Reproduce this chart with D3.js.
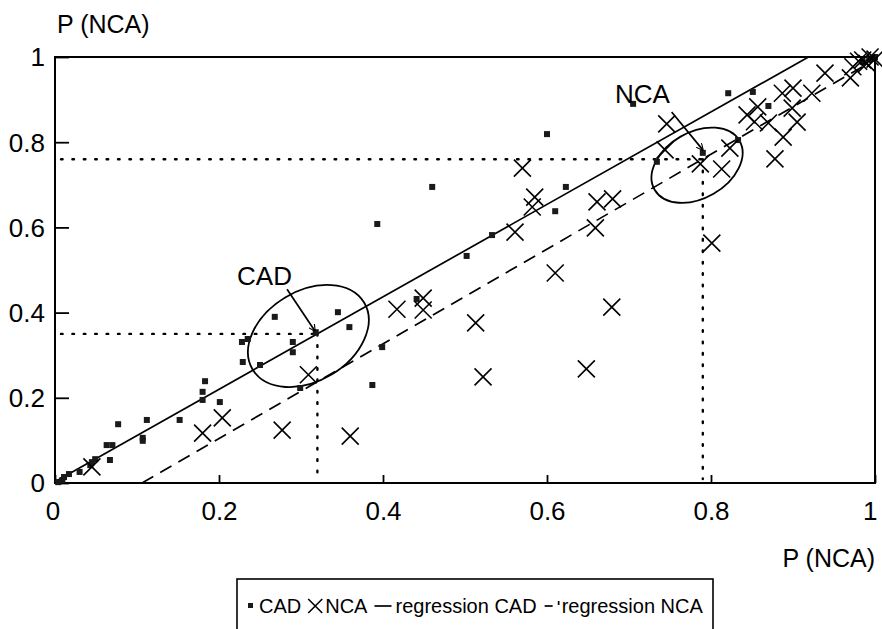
<!DOCTYPE html>
<html>
<head>
<meta charset="utf-8">
<script src="https://cdn.jsdelivr.net/npm/d3@7"></script>
<style>
body { margin: 0; background: #fff; }
svg { display: block; font-family: "Liberation Sans", Arial, sans-serif; background: #fff; }
.frame { fill: none; stroke: #000; stroke-width: 2; }
.axis path { display: none; }
.axis line { stroke: #000; stroke-width: 1.8; }
.axis text { font-size: 26px; fill: #000; font-family: "Liberation Sans", Arial, sans-serif; }
.title { font-size: 25px; fill: #000; }
.ref-line { stroke: #000; stroke-width: 2.4; stroke-dasharray: 1.6,9.8; stroke-linecap: round; fill: none; }
.reg-cad { stroke: #000; stroke-width: 1.7; fill: none; }
.reg-nca { stroke: #000; stroke-width: 1.7; fill: none; stroke-dasharray: 13,8; }
.ellipse { stroke: #000; stroke-width: 1.8; fill: none; }
.pointer { stroke: #000; stroke-width: 1.7; fill: none; }
.cad-point { fill: #1a1a1a; }
.nca-point { stroke: #000; stroke-width: 1.6; }
.note { font-size: 26px; fill: #000; }
.legend-box { fill: #fff; stroke: #000; stroke-width: 1.6; }
.legend text { font-size: 20px; fill: #000; }
</style>
</head>
<body>
<svg width="882" height="629"></svg>
<script>
// values
var cadX = [0.004, 0.009, 0.011, 0.017, 0.030, 0.043, 0.045, 0.049, 0.067, 0.063, 0.070, 0.077, 0.107, 0.107, 0.112, 0.152, 0.180, 0.180, 0.183, 0.201,
            0.228, 0.235, 0.229, 0.250, 0.268, 0.290, 0.290, 0.318, 0.345, 0.359, 0.399, 0.387, 0.299, 0.441, 0.502, 0.600, 0.460, 0.393, 0.533, 0.623,
            0.610, 0.821, 0.851, 0.870, 0.705, 0.833, 0.734, 0.790, 0.985, 0.993, 1.000];
var cadY = [0.002, 0.007, 0.014, 0.021, 0.026, 0.042, 0.049, 0.056, 0.054, 0.089, 0.089, 0.138, 0.106, 0.099, 0.148, 0.148, 0.195, 0.214, 0.239, 0.190,
            0.331, 0.338, 0.284, 0.277, 0.390, 0.331, 0.307, 0.354, 0.401, 0.366, 0.319, 0.230, 0.223, 0.432, 0.533, 0.819, 0.695, 0.608, 0.582, 0.695,
            0.638, 0.915, 0.918, 0.885, 0.890, 0.805, 0.754, 0.775, 0.988, 0.995, 1.000];

var ncaX = [0.045, 0.180, 0.204, 0.277, 0.309, 0.360, 0.417, 0.449, 0.449, 0.513, 0.522, 0.610, 0.648, 0.679, 0.801, 0.570, 0.585, 0.582, 0.561, 0.661,
            0.680, 0.659, 0.746, 0.744, 0.787, 0.813, 0.823, 0.878, 0.844, 0.857, 0.853, 0.870, 0.888, 0.887, 0.900, 0.899, 0.905, 0.923, 0.939, 0.970,
            0.973, 0.980, 0.985, 0.994, 1.000, 0.990];
var ncaY = [0.038, 0.117, 0.153, 0.124, 0.254, 0.110, 0.408, 0.434, 0.406, 0.376, 0.249, 0.493, 0.268, 0.413, 0.563, 0.739, 0.671, 0.648, 0.589, 0.660,
            0.667, 0.599, 0.843, 0.782, 0.749, 0.737, 0.786, 0.761, 0.864, 0.883, 0.848, 0.845, 0.812, 0.915, 0.927, 0.880, 0.847, 0.915, 0.962, 0.951,
            0.977, 0.990, 0.993, 1.000, 0.995, 0.985];

// regression lines: [intercept, slope]
var regCAD = [0.003, 1.085];
var regNCA = [-0.118, 1.112];

// dotted read-off lines (CAD, NCA)
var refX = [0.32, 0.79];
var refY = [0.35, 0.76];

var tickValues = [0, 0.2, 0.4, 0.6, 0.8, 1];
var tickLabels = ["0", "0.2", "0.4", "0.6", "0.8", "1"];
var axisTitle = "P (NCA)";
var noteLabels = ["CAD", "NCA"];
var legendLabels = ["CAD", "NCA", "regression CAD", "regression NCA"];

var svg = d3.select("svg"),
    margin = {top: 57, right: 7, bottom: 146, left: 55},
    width = +svg.attr("width") - margin.left - margin.right,
    height = +svg.attr("height") - margin.top - margin.bottom;

var x = d3.scaleLinear().domain([0, 1]).range([margin.left, margin.left + width]);
var y = d3.scaleLinear().domain([0, 1]).range([margin.top + height, margin.top]);

var fmt = function(d) { return tickLabels[tickValues.indexOf(d)]; };

// axes, ticks pointing inwards
svg.append("g")
    .attr("class", "axis")
    .attr("transform", "translate(" + x(0) + ",0)")
    .call(d3.axisLeft(y).tickValues(tickValues).tickFormat(fmt).tickSizeInner(-14).tickSizeOuter(0).tickPadding(10))
    .selectAll("text").attr("dy", "0.34em");

svg.append("g")
    .attr("class", "axis")
    .attr("transform", "translate(0," + y(0) + ")")
    .call(d3.axisBottom(x).tickValues(tickValues).tickFormat(fmt).tickSizeInner(-8).tickSizeOuter(0).tickPadding(19))
    .selectAll("text")
    .attr("dx", function(d) { return d === 1 ? "-0.2em" : (d === 0 ? "-0.1em" : 0); });

svg.append("rect")
    .attr("class", "frame")
    .attr("x", x(0))
    .attr("y", y(1))
    .attr("width", x(1) - x(0))
    .attr("height", y(0) - y(1));

svg.append("text").attr("class", "title")
    .attr("x", x(0) + 2).attr("y", y(1) - 24)
    .text(axisTitle);

svg.append("text").attr("class", "title")
    .attr("x", x(1)).attr("y", y(0) + 84)
    .attr("text-anchor", "end")
    .text(axisTitle);

// dotted lines to the read-off values
for (var i = 0; i < refX.length; i++) {
    svg.append("line").attr("class", "ref-line")
        .attr("x1", x(0) + 6).attr("y1", y(refY[i]))
        .attr("x2", x(refX[i])).attr("y2", y(refY[i]));
    svg.append("line").attr("class", "ref-line")
        .attr("x1", x(refX[i])).attr("y1", y(refY[i]))
        .attr("x2", x(refX[i])).attr("y2", y(0) - 4);
}

// regression lines, kept inside the unit square
var cadEnd = (1 - regCAD[0]) / regCAD[1];
svg.append("line").attr("class", "reg-cad")
    .attr("x1", x(0)).attr("y1", y(regCAD[0]))
    .attr("x2", x(cadEnd)).attr("y2", y(1));

var ncaStart = -regNCA[0] / regNCA[1];
svg.append("line").attr("class", "reg-nca")
    .attr("x1", x(ncaStart)).attr("y1", y(0))
    .attr("x2", x(1)).attr("y2", y(regNCA[0] + regNCA[1]));

// ellipses round the read-off points
var ellipses = [
    {cx: 0.309, cy: 0.345, rx: 65, ry: 45, angle: -31},
    {cx: 0.783, cy: 0.746, rx: 49, ry: 33, angle: -30}
];
ellipses.forEach(function(e) {
    svg.append("ellipse").attr("class", "ellipse")
        .attr("transform", "translate(" + x(e.cx) + "," + y(e.cy) + ") rotate(" + e.angle + ")")
        .attr("rx", e.rx).attr("ry", e.ry);
});

// CAD squares
svg.append("g").selectAll("rect")
    .data(d3.range(cadX.length))
    .enter().append("rect")
    .attr("class", "cad-point")
    .attr("x", function(i) { return x(cadX[i]) - 3; })
    .attr("y", function(i) { return y(cadY[i]) - 3; })
    .attr("width", 6)
    .attr("height", 6);

// NCA crosses
var crossPath = function(cx, cy, r) {
    return "M" + (cx - r) + "," + (cy - r) + "L" + (cx + r) + "," + (cy + r) +
           "M" + (cx - r) + "," + (cy + r) + "L" + (cx + r) + "," + (cy - r);
};
svg.append("g").selectAll("path")
    .data(d3.range(ncaX.length))
    .enter().append("path")
    .attr("class", "nca-point")
    .attr("d", function(i) { return crossPath(x(ncaX[i]), y(ncaY[i]), 8.5); });

// labels with pointers
svg.append("defs").append("marker")
    .attr("id", "tip")
    .attr("viewBox", "0 0 10 10")
    .attr("refX", 9).attr("refY", 5)
    .attr("markerWidth", 7).attr("markerHeight", 7)
    .attr("markerUnits", "userSpaceOnUse")
    .attr("orient", "auto")
    .append("path")
    .attr("d", "M0,0L10,5L0,10")
    .attr("fill", "none").attr("stroke", "#000").attr("stroke-width", 1.6);

var notes = [
    {label: noteLabels[0], tx: 0.222, ty: 0.465, x1: 0.283, y1: 0.455, x2: 0.317, y2: 0.357},
    {label: noteLabels[1], tx: 0.683, ty: 0.892, x1: 0.752, y1: 0.871, x2: 0.790, y2: 0.782}
];
notes.forEach(function(n) {
    svg.append("text").attr("class", "note")
        .attr("x", x(n.tx)).attr("y", y(n.ty))
        .text(n.label);
    svg.append("line").attr("class", "pointer")
        .attr("x1", x(n.x1)).attr("y1", y(n.y1))
        .attr("x2", x(n.x2)).attr("y2", y(n.y2))
        .attr("marker-end", "url(#tip)");
});

// Legend: items placed one after the other
var legend = svg.append("g").attr("class", "legend").attr("transform", "translate(237,579)");
var ly = 27, lx = 11;
legend.append("rect").attr("class", "legend-box")
    .attr("x", 0).attr("y", 0).attr("width", 476).attr("height", 70);

var addText = function(s, gap) {
    var t = legend.append("text").attr("x", lx).attr("y", ly + 7).text(s);
    lx += t.node().getComputedTextLength() + gap;
};

legend.append("rect").attr("class", "cad-point")
    .attr("x", lx).attr("y", ly - 3).attr("width", 5).attr("height", 5);
lx += 11;
addText(legendLabels[0], 7);

legend.append("path").attr("class", "nca-point").attr("d", crossPath(lx + 7, ly, 7));
lx += 17;
addText(legendLabels[1], 7);

legend.append("line").attr("class", "reg-cad")
    .attr("x1", lx).attr("y1", ly).attr("x2", lx + 17).attr("y2", ly);
lx += 21;
addText(legendLabels[2], 8);

legend.append("line").attr("class", "reg-cad")
    .attr("x1", lx).attr("y1", ly).attr("x2", lx + 8).attr("y2", ly);
legend.append("line").attr("class", "reg-cad")
    .attr("x1", lx + 14).attr("y1", ly - 5).attr("x2", lx + 14).attr("y2", ly - 1);
lx += 17;
addText(legendLabels[3], 0);
</script>
</body>
</html>
